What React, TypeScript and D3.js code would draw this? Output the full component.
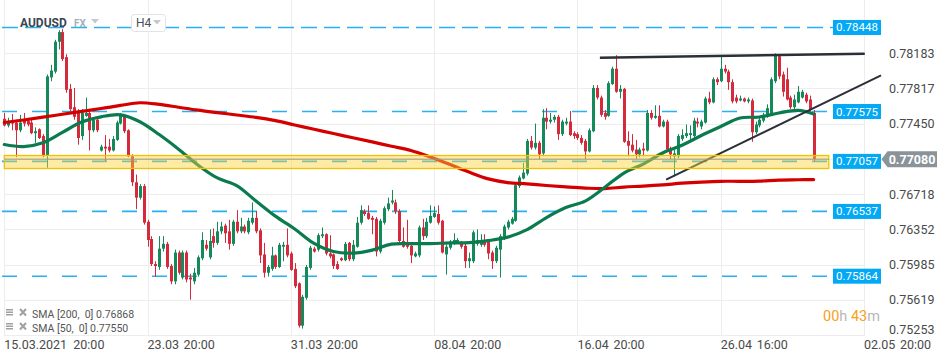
import React from "react";
import * as d3 from "d3";

const opens = [0.7750,0.7743,0.7747,0.7746,0.7738,0.7749,0.7748,0.7746,0.7735,0.7739,
0.7732,0.7712,0.7793,0.7799,0.7830,0.7840,0.7814,0.7781,0.7762,0.7756,
0.7732,0.7753,0.7756,0.7738,0.7749,0.7717,0.7721,0.7721,0.7717,0.7728,
0.7745,0.7753,0.7738,0.7711,0.7684,0.7668,0.7680,0.7643,0.7625,0.7599,
0.7596,0.7615,0.7620,0.7597,0.7581,0.7611,0.7585,0.7611,0.7585,0.7581,
0.7588,0.7605,0.7619,0.7606,0.7628,0.7621,0.7633,0.7639,0.7633,0.7620,
0.7643,0.7633,0.7638,0.7632,0.7642,0.7647,0.7634,0.7609,0.7590,0.7594,
0.7608,0.7596,0.7617,0.7619,0.7610,0.7594,0.7579,0.7535,0.7564,0.7595,
0.7615,0.7614,0.7628,0.7630,0.7610,0.7609,0.7599,0.7605,0.7603,0.7621,
0.7604,0.7617,0.7642,0.7654,0.7652,0.7647,0.7646,0.7612,0.7642,0.7656,
0.7663,0.7663,0.7654,0.7623,0.7622,0.7618,0.7607,0.7608,0.7637,0.7628,
0.7642,0.7648,0.7651,0.7644,0.7609,0.7616,0.7620,0.7621,0.7621,0.7618,
0.7602,0.7602,0.7620,0.7619,0.7624,0.7622,0.7611,0.7602,0.7614,0.7626,
0.7637,0.7641,0.7644,0.7680,0.7688,0.7693,0.7727,0.7720,0.7725,0.7714,
0.7751,0.7747,0.7749,0.7752,0.7734,0.7745,0.7747,0.7735,0.7734,0.7730,
0.7727,0.7716,0.7737,0.7782,0.7772,0.7756,0.7753,0.7786,0.7802,0.7778,
0.7781,0.7727,0.7723,0.7718,0.7713,0.7719,0.7717,0.7756,0.7751,0.7753,
0.7742,0.7747,0.7719,0.7711,0.7711,0.7729,0.7732,0.7733,0.7732,0.7747,
0.7742,0.7746,0.7771,0.7767,0.7791,0.7789,0.7802,0.7799,0.7788,0.7772,
0.7769,0.7771,0.7768,0.7769,0.7736,0.7743,0.7748,0.7752,0.7754,0.7789,
0.7815,0.7796,0.7791,0.7772,0.7762,0.7767,0.7772,0.7775,0.7770,0.7756];

const highs = [0.7756,0.7751,0.7755,0.7749,0.7754,0.7756,0.7751,0.7749,0.7741,0.7740,
0.7734,0.7796,0.7806,0.7832,0.7842,0.7843,0.7817,0.7786,0.7782,0.7760,
0.7760,0.7772,0.7759,0.7750,0.7751,0.7723,0.7733,0.7729,0.7732,0.7748,
0.7756,0.7755,0.7739,0.7713,0.7692,0.7682,0.7682,0.7645,0.7628,0.7602,
0.7628,0.7628,0.7622,0.7599,0.7614,0.7613,0.7613,0.7613,0.7589,0.7595,
0.7608,0.7632,0.7624,0.7635,0.7636,0.7643,0.7643,0.7641,0.7645,0.7645,
0.7655,0.7647,0.7640,0.7647,0.7663,0.7654,0.7636,0.7621,0.7598,0.7617,
0.7609,0.7621,0.7622,0.7636,0.7612,0.7600,0.7580,0.7567,0.7598,0.7618,
0.7617,0.7631,0.7637,0.7631,0.7629,0.7610,0.7602,0.7606,0.7622,0.7622,
0.7624,0.7648,0.7660,0.7656,0.7660,0.7649,0.7648,0.7646,0.7659,0.7668,
0.7676,0.7666,0.7656,0.7637,0.7645,0.7620,0.7612,0.7639,0.7646,0.7647,
0.7660,0.7659,0.7660,0.7645,0.7619,0.7624,0.7631,0.7626,0.7623,0.7620,
0.7611,0.7634,0.7635,0.7630,0.7630,0.7624,0.7613,0.7618,0.7630,0.7640,
0.7645,0.7648,0.7683,0.7691,0.7704,0.7729,0.7732,0.7745,0.7727,0.7760,
0.7761,0.7756,0.7754,0.7754,0.7749,0.7751,0.7758,0.7737,0.7736,0.7733,
0.7729,0.7740,0.7785,0.7785,0.7774,0.7759,0.7789,0.7804,0.7816,0.7785,
0.7782,0.7737,0.7734,0.7728,0.7720,0.7725,0.7759,0.7759,0.7764,0.7764,
0.7749,0.7749,0.7721,0.7718,0.7734,0.7739,0.7744,0.7743,0.7751,0.7751,
0.7749,0.7773,0.7778,0.7793,0.7793,0.7815,0.7806,0.7801,0.7791,0.7775,
0.7774,0.7772,0.7772,0.7771,0.7747,0.7751,0.7756,0.7765,0.7793,0.7818,
0.7817,0.7799,0.7803,0.7774,0.7775,0.7784,0.7780,0.7777,0.7774,0.7759];

const lows = [0.7742,0.7741,0.7738,0.7710,0.7736,0.7742,0.7742,0.7734,0.7725,0.7729,
0.7710,0.7699,0.7789,0.7797,0.7822,0.7810,0.7777,0.7758,0.7749,0.7723,
0.7728,0.7752,0.7717,0.7736,0.7736,0.7716,0.7706,0.7715,0.7716,0.7727,
0.7744,0.7735,0.7710,0.7680,0.7656,0.7666,0.7640,0.7617,0.7597,0.7586,
0.7593,0.7612,0.7594,0.7578,0.7578,0.7588,0.7583,0.7580,0.7562,0.7578,
0.7586,0.7603,0.7613,0.7604,0.7616,0.7619,0.7630,0.7621,0.7614,0.7618,
0.7631,0.7631,0.7631,0.7630,0.7640,0.7631,0.7600,0.7585,0.7586,0.7592,
0.7594,0.7595,0.7602,0.7606,0.7592,0.7574,0.7533,0.7532,0.7562,0.7593,
0.7611,0.7612,0.7626,0.7608,0.7605,0.7594,0.7593,0.7602,0.7602,0.7602,
0.7602,0.7616,0.7640,0.7649,0.7645,0.7630,0.7607,0.7610,0.7640,0.7654,
0.7661,0.7651,0.7621,0.7616,0.7615,0.7600,0.7606,0.7606,0.7624,0.7626,
0.7641,0.7647,0.7640,0.7610,0.7588,0.7614,0.7619,0.7620,0.7615,0.7595,
0.7595,0.7600,0.7618,0.7617,0.7617,0.7604,0.7594,0.7600,0.7585,0.7624,
0.7635,0.7640,0.7643,0.7678,0.7687,0.7691,0.7718,0.7718,0.7708,0.7712,
0.7739,0.7745,0.7746,0.7728,0.7732,0.7743,0.7732,0.7729,0.7728,0.7723,
0.7708,0.7715,0.7736,0.7770,0.7752,0.7749,0.7752,0.7785,0.7777,0.7771,
0.7725,0.7711,0.7715,0.7708,0.7710,0.7711,0.7716,0.7749,0.7750,0.7741,
0.7741,0.7716,0.7708,0.7690,0.7709,0.7727,0.7730,0.7728,0.7730,0.7741,
0.7739,0.7745,0.7765,0.7766,0.7785,0.7788,0.7797,0.7780,0.7766,0.7766,
0.7768,0.7767,0.7766,0.7726,0.7734,0.7741,0.7746,0.7751,0.7753,0.7787,
0.7791,0.7773,0.7769,0.7760,0.7760,0.7766,0.7771,0.7766,0.7758,0.7706];

const closes = [0.7743,0.7747,0.7745,0.7738,0.7746,0.7745,0.7744,0.7735,0.7737,0.7730,
0.7712,0.7794,0.7800,0.7830,0.7840,0.7812,0.7780,0.7760,0.7752,0.7730,
0.7756,0.7756,0.7738,0.7749,0.7738,0.7721,0.7719,0.7717,0.7729,0.7746,
0.7753,0.7737,0.7711,0.7684,0.7668,0.7680,0.7642,0.7624,0.7599,0.7597,
0.7615,0.7620,0.7596,0.7581,0.7611,0.7590,0.7611,0.7583,0.7583,0.7590,
0.7606,0.7624,0.7615,0.7623,0.7621,0.7633,0.7638,0.7631,0.7620,0.7643,
0.7633,0.7638,0.7633,0.7644,0.7647,0.7633,0.7608,0.7590,0.7596,0.7608,
0.7596,0.7619,0.7619,0.7608,0.7593,0.7576,0.7535,0.7565,0.7596,0.7616,
0.7612,0.7629,0.7630,0.7610,0.7607,0.7597,0.7594,0.7603,0.7620,0.7604,
0.7619,0.7642,0.7655,0.7651,0.7646,0.7645,0.7612,0.7644,0.7657,0.7662,
0.7665,0.7654,0.7623,0.7617,0.7617,0.7608,0.7610,0.7637,0.7628,0.7643,
0.7649,0.7652,0.7642,0.7611,0.7617,0.7622,0.7624,0.7624,0.7617,0.7602,
0.7605,0.7632,0.7624,0.7624,0.7619,0.7610,0.7602,0.7616,0.7628,0.7638,
0.7643,0.7646,0.7681,0.7689,0.7694,0.7727,0.7720,0.7725,0.7713,0.7751,
0.7747,0.7749,0.7752,0.7734,0.7747,0.7747,0.7733,0.7732,0.7730,0.7725,
0.7716,0.7738,0.7782,0.7772,0.7754,0.7752,0.7787,0.7802,0.7778,0.7781,
0.7726,0.7722,0.7717,0.7713,0.7718,0.7717,0.7756,0.7751,0.7753,0.7742,
0.7747,0.7718,0.7713,0.7714,0.7732,0.7733,0.7735,0.7735,0.7748,0.7745,
0.7747,0.7771,0.7767,0.7791,0.7788,0.7802,0.7799,0.7788,0.7768,0.7768,
0.7771,0.7768,0.7770,0.7736,0.7744,0.7749,0.7754,0.7761,0.7791,0.7817,
0.7794,0.7778,0.7770,0.7762,0.7770,0.7778,0.7778,0.7768,0.7760,0.7708];

const smaIdx = [0,5,10,15,20,25,30,35,40,45,50,55,60,65,70,75,80,85,90,95,100,105,110,115,120,125,130,135,140,145,150,155,160,165,170,175,180,185,190,195,200,205,209];
const sma200 = [0.77461,0.77487,0.77516,0.77547,0.77577,0.77606,0.77638,0.77666,0.77649,0.77619,0.77589,0.77564,0.77539,0.77514,0.77480,0.77435,0.77391,0.77346,0.77303,0.77259,0.77214,0.77170,0.77102,0.77026,0.76946,0.76875,0.76837,0.76823,0.76806,0.76792,0.76780,0.76774,0.76790,0.76800,0.76813,0.76830,0.76842,0.76850,0.76850,0.76852,0.76863,0.76866,0.76868];
const sma50 = [0.77232,0.77211,0.77250,0.77358,0.77466,0.77520,0.77541,0.77469,0.77336,0.77184,0.77019,0.76885,0.76806,0.76645,0.76488,0.76355,0.76204,0.76120,0.76103,0.76135,0.76197,0.76202,0.76202,0.76210,0.76213,0.76234,0.76270,0.76348,0.76473,0.76577,0.76644,0.76785,0.76936,0.77029,0.77144,0.77224,0.77326,0.77419,0.77508,0.77518,0.77560,0.77586,0.77550];

const dateTickIdx = [0, 37, 74, 111, 148, 185, 222];
const dateTickDay = ["15.03.2021", "23.03", "31.03", "08.04", "16.04", "26.04", "02.05"];
const dateTickTime = ["20:00", "20:00", "20:00", "20:00", "20:00", "16:00", "20:00"];
const priceGrid = [0.78183, 0.77817, 0.7745, 0.77084, 0.76718, 0.76352, 0.75985, 0.75619, 0.75253];
const priceLabels = ["0.78183", "0.77817", "0.77450", "", "0.76718", "0.76352", "0.75985", "0.75619", "0.75253"];
const levels = [0.78448, 0.77575, 0.77057, 0.76537, 0.75864];
const levelLabels = ["0.78448", "0.77575", "0.77057", "0.76537", "0.75864"];
const lastPrice = 0.7708;
const zoneTop = 0.77118;
const zoneBottom = 0.76983;
const zoneEndIdx = 212.9;
const resistanceLine = [[153.8, 0.78134], [222.2, 0.78175]];
const supportLine = [[170.9, 0.76868], [226.4, 0.7795]];
const legendNames = ["SMA [200,  0] 0.76868", "SMA [50,  0] 0.77550"];

const FONT = "Roboto, 'Noto Sans', sans-serif";
const GREEN = "#14895a";
const RED = "#d42a3b";

export default function App() {
  const x = d3.scaleLinear().domain([0, 222]).range([4.3, 864]);
  const y = d3.scaleLinear().domain([0.75253, 0.78183]).range([335, 53]);
  const xL = x(0);
  const xR = x(222);
  const labelX = 833;

  const smaLine = d3
    .line<number>()
    .x((_, i) => x(smaIdx[i]))
    .y((d) => y(d))
    .curve(d3.curveCatmullRom);

  const dash = (v: number) => (v === levels[0] ? "16 7" : "15 15");

  return (
    <svg
      width={950}
      height={361}
      style={{ position: "absolute", left: 0, top: 0, display: "block" }}
      fontFamily={FONT}
    >
      <rect x={0} y={0} width={950} height={361} fill="#ffffff" />
      {priceGrid.map((v, i) => (
        <line key={"hg" + i} x1={xL} x2={xR} y1={Math.round(y(v)) + 0.5} y2={Math.round(y(v)) + 0.5} stroke="#ededed" strokeWidth={1} />
      ))}
      {dateTickIdx.map((t, i) => (
        <line key={"vg" + i} x1={Math.round(x(t)) + 0.5} x2={Math.round(x(t)) + 0.5} y1={0} y2={336} stroke="#ededed" strokeWidth={1} />
      ))}
      {levels.map((v, i) => (
        <line key={"lv" + i} x1={2} x2={labelX} y1={y(v)} y2={y(v)} stroke="#29b0f0" strokeWidth={1.6} strokeDasharray={dash(v)} />
      ))}
      {closes.map((c, i) => {
        const o = opens[i];
        const up = c >= o;
        const col = up ? GREEN : RED;
        const cx = Math.round(x(i));
        const top = y(Math.max(o, c));
        const bot = y(Math.min(o, c));
        return (
          <g key={"c" + i}>
            <line x1={cx + 0.5} x2={cx + 0.5} y1={y(highs[i])} y2={y(lows[i])} stroke={col} strokeWidth={1} />
            <rect x={cx - 1} y={top} width={3} height={Math.max(1, bot - top)} fill={col} />
          </g>
        );
      })}
      <path d={smaLine(sma200) || ""} fill="none" stroke="#d40000" strokeWidth={3.2} strokeLinejoin="round" strokeLinecap="round" />
      <path d={smaLine(sma50) || ""} fill="none" stroke="#0a7b4e" strokeWidth={3.2} strokeLinejoin="round" strokeLinecap="round" />
      <line x1={x(resistanceLine[0][0])} y1={y(resistanceLine[0][1])} x2={x(resistanceLine[1][0])} y2={y(resistanceLine[1][1])} stroke="#2b2f38" strokeWidth={2.4} />
      <line x1={x(supportLine[0][0])} y1={y(supportLine[0][1])} x2={x(supportLine[1][0])} y2={y(supportLine[1][1])} stroke="#2b2f38" strokeWidth={2} />
      <rect x={xL} y={y(zoneTop)} width={x(zoneEndIdx) - xL} height={y(zoneBottom) - y(zoneTop)} fill="#fbd33a" fillOpacity={0.45} stroke="#f2c200" strokeWidth={1.3} />
      <line x1={xL} x2={x(zoneEndIdx)} y1={y(lastPrice)} y2={y(lastPrice)} stroke="#9a9a80" strokeWidth={1} />
      {priceGrid.map((v, i) =>
        priceLabels[i] ? (
          <text key={"pl" + i} x={889} y={Math.min(y(v) + 4.5, 334)} fontSize={12.5} fill="#4a4a4a">
            {priceLabels[i]}
          </text>
        ) : null
      )}
      {levels.map((v, i) => (
        <g key={"ll" + i}>
          <rect x={labelX} y={y(v) - 7.5} width={48} height={15} fill="#03a9f4" />
          <text x={labelX + 24} y={y(v) + 4} fontSize={11.5} fill="#ffffff" textAnchor="middle">
            {levelLabels[i]}
          </text>
        </g>
      ))}
      <path
        d={`M${881.5},${y(lastPrice)} L${887.5},${y(lastPrice) - 8} L${937},${y(lastPrice) - 8} L${937},${y(lastPrice) + 8} L${887.5},${y(lastPrice) + 8} Z`}
        fill="#8a9399"
      />
      <text x={912} y={y(lastPrice) + 4.5} fontSize={12.5} fontWeight={700} fill="#ffffff" textAnchor="middle">
        {lastPrice.toFixed(5)}
      </text>
      {dateTickIdx.map((t, i) => (
        <g key={"dl" + i} fontSize={12.5} fill="#4a4a4a">
          <text x={x(t)} y={348.5}>{dateTickDay[i]}</text>
          <text x={x(t) + (i === 0 ? 69 : 36)} y={348.5}>{dateTickTime[i]}</text>
        </g>
      ))}
      <text x={20} y={27} fontSize={12} fontWeight={700} fill="#3d4452">AUDUSD</text>
      <text x={74} y={27} fontSize={10} fontWeight={700} fill="#a7b0ba">FX</text>
      <path d="M91,19 L99,19 L95,23.5 Z" fill="#c3c8ce" />
      <rect x={131.5} y={14.5} width={34} height={17} rx={3} fill="#ffffff" stroke="#dfe2e6" />
      <text x={136} y={27} fontSize={12} fill="#4a4f57">H4</text>
      <path d="M153,20 L161,20 L157,24.5 Z" fill="#c3c8ce" />
      {legendNames.map((n, i) => (
        <g key={"lg" + i}>
          <rect x={6} y={309 + i * 14} width={7} height={1.5} fill="#a0a0a0" />
          <rect x={6} y={311.5 + i * 14} width={7} height={1.5} fill="#a0a0a0" />
          <rect x={6} y={314 + i * 14} width={7} height={1.5} fill="#a0a0a0" />
          <path d={`M20,${309 + i * 14} L26,${315.5 + i * 14} M26,${309 + i * 14} L20,${315.5 + i * 14}`} stroke="#a0a0a0" strokeWidth={2} />
          <text x={32} y={318 + i * 14} fontSize={10.5} fill="#555" style={{ whiteSpace: "pre" }}>
            {n}
          </text>
        </g>
      ))}
      <text x={823} y={321} fontSize={14.5}>
        <tspan fill="#f7a11a">00</tspan>
        <tspan fill="#b8b8b8">h </tspan>
        <tspan fill="#f7a11a">43</tspan>
        <tspan fill="#b8b8b8">m</tspan>
      </text>
    </svg>
  );
}
